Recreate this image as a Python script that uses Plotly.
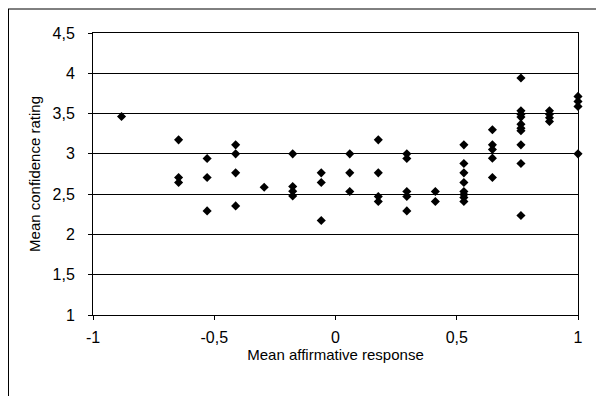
import plotly.graph_objects as go

# x positions are k/17
x_num = [-15,
         -11, -11, -11,
         -9, -9, -9,
         -7, -7, -7, -7,
         -5,
         -3, -3, -3, -3,
         -1, -1, -1,
         1, 1, 1,
         3, 3, 3, 3,
         5, 5, 5, 5, 5,
         7, 7,
         9, 9, 9, 9, 9, 9, 9, 9,
         11, 11, 11, 11, 11,
         13, 13, 13, 13, 13, 13, 13, 13, 13, 13,
         15, 15, 15, 15,
         17, 17, 17, 17]
y_vals = [3.464,
          3.174, 2.706, 2.644,
          2.942, 2.706, 2.292,
          3.112, 3.0, 2.764, 2.354,
          2.586,
          3.0, 2.594, 2.536, 2.478,
          2.764, 2.644, 2.172,
          3.0, 2.764, 2.532,
          3.174, 2.764, 2.470, 2.408,
          3.0, 2.942, 2.532, 2.470, 2.292,
          2.532, 2.408,
          3.112, 2.880, 2.764, 2.644, 2.532, 2.495, 2.458, 2.408,
          3.299, 3.112, 3.054, 2.947, 2.706,
          3.941, 3.535, 3.493, 3.456, 3.369, 3.319, 3.286, 3.112, 2.880, 2.234,
          3.535, 3.493, 3.448, 3.402,
          3.713, 3.651, 3.589, 3.0]
x_vals = [n / 17 for n in x_num]

x_tickvals = [-1, -0.5, 0, 0.5, 1]
x_ticktext = ["-1", "-0,5", "0", "0,5", "1"]
y_tickvals = [1, 1.5, 2, 2.5, 3, 3.5, 4, 4.5]
y_ticktext = ["1", "1,5", "2", "2,5", "3", "3,5", "4", "4,5"]

fig = go.Figure(go.Scatter(
    x=x_vals, y=y_vals, mode="markers",
    marker=dict(symbol="diamond", size=7, color="black", line=dict(width=0)),
    cliponaxis=False, showlegend=False))

font = dict(family="Liberation Sans, Arial, sans-serif", size=16, color="black")
tfont = dict(family="Liberation Sans, Arial, sans-serif", size=15, color="black")

# page is offset by the body margin (8px)
W, H = 596, 388
L, R, T, B = 85, 26, 25, 81
fig.update_layout(
    width=W, height=H,
    margin=dict(l=L, r=R, t=T, b=B, pad=0),
    paper_bgcolor="white", plot_bgcolor="white",
    font=font,
    xaxis=dict(range=[-1, 1], tickvals=x_tickvals, ticktext=x_ticktext,
               showgrid=False, zeroline=False, showline=True, linecolor="black",
               linewidth=1, mirror=True, ticks="outside", ticklen=4,
               tickcolor="black", ticklabelstandoff=4,
               title=dict(text="Mean affirmative response", font=tfont, standoff=1)),
    yaxis=dict(range=[1, 4.5], tickvals=y_tickvals, ticktext=y_ticktext,
               showgrid=True, gridcolor="black", gridwidth=1, zeroline=False,
               showline=True, linecolor="black", linewidth=1, mirror=True,
               ticks="outside", ticklen=4, tickcolor="black", ticklabelstandoff=10,
               title=dict(text="Mean confidence rating", font=tfont, standoff=8)),
)

pw = W - L - R
ph = H - T - B
def px2x(p):
    return (p - L) / pw
def py2y(p):
    return 1 - (p - T) / ph

fig.add_shape(type="line", xref="paper", yref="paper",
              x0=px2x(0.5), x1=px2x(0.5), y0=py2y(1), y1=py2y(400),
              line=dict(color="black", width=1))
fig.add_shape(type="line", xref="paper", yref="paper",
              x0=px2x(0), x1=px2x(610), y0=py2y(1), y1=py2y(1),
              line=dict(color="black", width=1))

fig.write_html("out.html")
